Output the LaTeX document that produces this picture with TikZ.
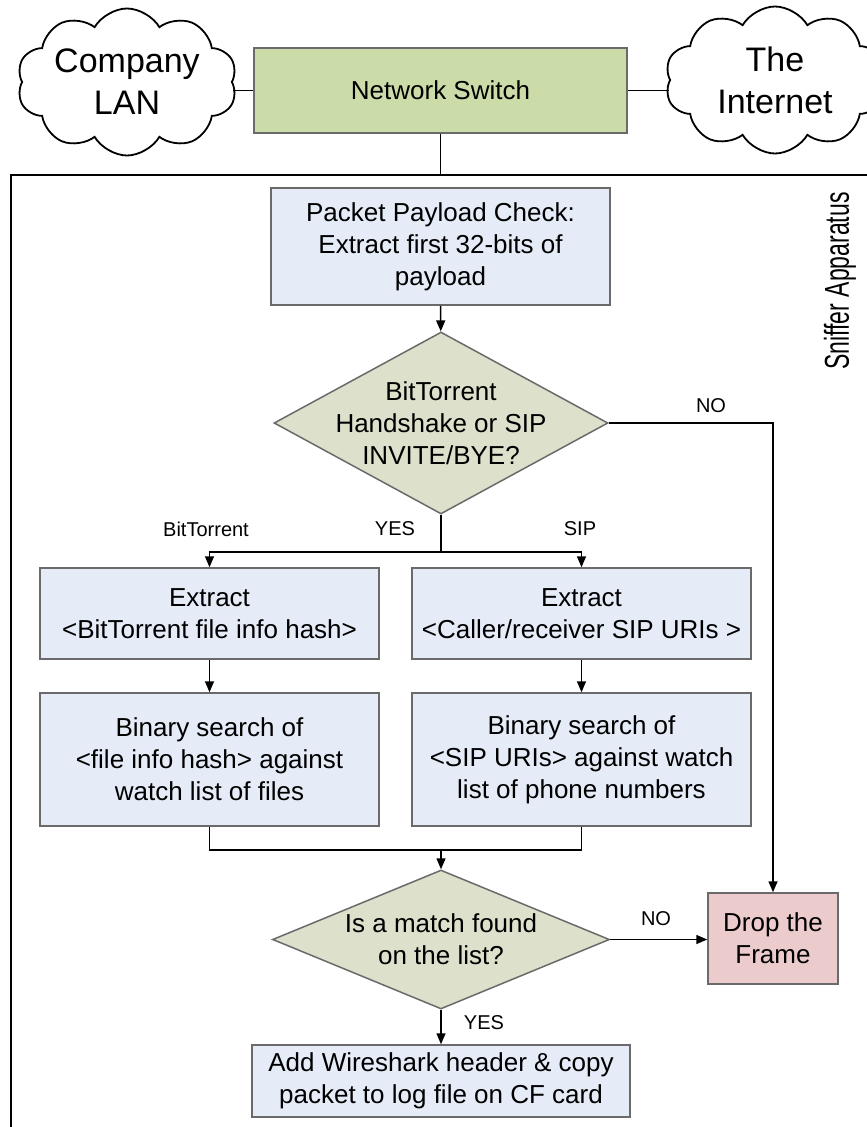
\documentclass[tikz,border=0pt]{standalone}
\usepackage{fontspec}
\setmainfont{Liberation Sans}
\usetikzlibrary{arrows.meta,shapes.geometric,shapes.symbols}
\definecolor{switchgreen}{HTML}{CBDCA8}
\definecolor{stepblue}{HTML}{E5ECF7}
\definecolor{testgrey}{HTML}{DDE0CB}
\definecolor{droppink}{HTML}{EBCBCB}
\definecolor{edgegrey}{HTML}{6A6A6A}

\begin{document}
\begin{tikzpicture}[x=1pt, y=-1pt, line width=1.5pt,
  >={Triangle[length=11pt,width=9pt]},
  box/.style={rectangle, draw=edgegrey, fill=stepblue, align=center,
    font=\fontsize{26}{32}\selectfont, inner sep=0pt},
  decision/.style={diamond, draw=edgegrey, fill=testgrey, align=center,
    font=\fontsize{26}{32}\selectfont, inner sep=-60pt},
  net/.style={cloud, cloud puffs=10, cloud puff arc=120, cloud ignores aspect,
    draw, line width=1.8pt, align=center, minimum width=220pt,
    minimum height=147pt, font=\fontsize{34}{42}\selectfont, inner sep=0pt},
  lbl/.style={font=\fontsize{20}{24}\selectfont, inner sep=0pt}]
  \useasboundingbox (0,0) rectangle (867,1127);

  \node[net] (lan) at (127,82) {Company\\LAN};
  \node[net] (inet) at (775,80) {The\\Internet};
  \node[box, fill=switchgreen, minimum width=373pt, minimum height=85pt]
    (switch) at (440.5,90.5) {Network Switch};
  \coordinate (apptop) at (440.5,175);
  \draw[line width=2.5pt] (867,175) -- (11,175) -- (11,1127);
  \node[rotate=90, font=\fontsize{23}{28}\selectfont] (sniffer) at (840,281)
    {\scalebox{1}[1.5]{Sniffer Apparatus}};

  \node[box, minimum width=339pt, minimum height=117pt] (pkt) at (440.5,246.5)
    {Packet Payload Check:\\Extract first 32-bits of\\payload};
  \node[decision, minimum width=334pt, minimum height=182pt] (q1) at (441,423)
    {BitTorrent\\Handshake or SIP\\INVITE/BYE?};
  \coordinate (fork) at (441,552);
  \node[box, minimum width=339pt, minimum height=91pt] (bthash) at (209.5,613.5)
    {Extract\\<BitTorrent file info hash>};
  \node[box, minimum width=339pt, minimum height=91pt] (sipuri) at (581.5,613.5)
    {Extract\\<Caller/receiver SIP URIs >};
  \node[box, minimum width=339pt, minimum height=133pt] (btsearch) at (209.5,759.5)
    {Binary search of\\<file info hash> against\\watch list of files};
  \node[box, minimum width=339pt, minimum height=133pt] (sipsearch) at (581.5,759.5)
    {Binary search of\\<SIP URIs> against watch\\list of phone numbers};
  \coordinate (join) at (441,850);
  \node[decision, minimum width=337pt, minimum height=139pt] (q2) at (441,939.5)
    {Is a match found\\on the list?};
  \node[box, fill=droppink, minimum width=130pt, minimum height=91pt] (drop)
    at (773,938.5) {Drop the\\Frame};
  \node[box, minimum width=378pt, minimum height=72pt] (log) at (441,1081)
    {Add Wireshark header \& copy\\packet to log file on CF card};

  \node[lbl] (noa) at (711,406) {NO};
  \node[lbl] (yesa) at (395,529) {YES};
  \node[lbl] (btlbl) at (206,529) {BitTorrent};
  \node[lbl] (siplbl) at (580,529) {SIP};
  \node[lbl] (nob) at (656,919) {NO};
  \node[lbl] (yesb) at (484,1023) {YES};

  \draw (switch.west) -- (switch.west -| lan.east);
  \draw (switch.east) -- (switch.east -| inet.west);
  \draw (switch.south) -- (apptop);
  \draw[->] (pkt) -- (q1);
  \draw (q1.south) -- (fork);
  \draw[->] (fork) -| (bthash.north);
  \draw[->] (fork) -| (sipuri.north);
  \draw[->] (q1.east) -| (drop.north);
  \draw[->] (bthash) -- (btsearch);
  \draw[->] (sipuri) -- (sipsearch);
  \draw (btsearch.south) |- (join);
  \draw (sipsearch.south) |- (join);
  \draw[->] (join) -- (q2.north);
  \draw[->] (q2.east) -- (q2.east -| drop.west);
  \draw[->] (q2) -- (log);
\end{tikzpicture}
\end{document}
